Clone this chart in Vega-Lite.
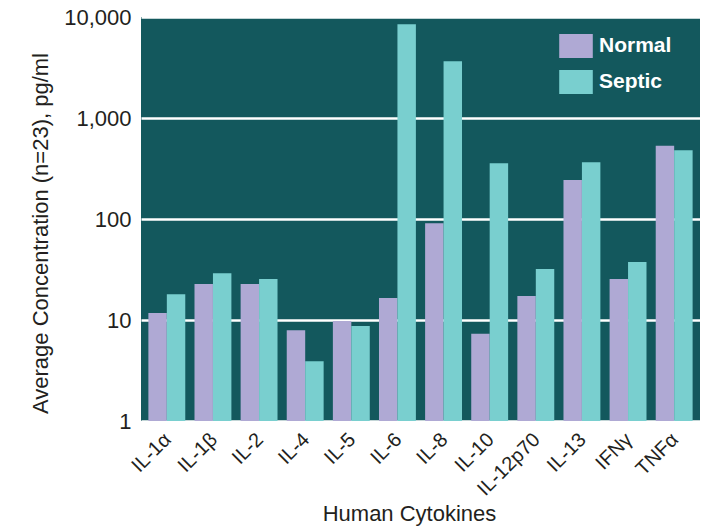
{
  "$schema": "https://vega.github.io/schema/vega-lite/v6.json",
  "width": 559,
  "height": 404,
  "autosize": {"type": "none"},
  "padding": {"left": 141, "top": 17, "right": 17, "bottom": 108},
  "background": "white",
  "config": {
    "font": "Liberation Sans",
    "view": {"fill": "#13585d", "stroke": null},
    "axis": {"labelColor": "#231f20", "titleColor": "#231f20", "titleFontWeight": "normal"}
  },
  "data": {
    "values": [
      {"cytokine": "IL-1α", "group": "Normal", "value": 11.7},
      {"cytokine": "IL-1α", "group": "Septic", "value": 18},
      {"cytokine": "IL-1β", "group": "Normal", "value": 22.7},
      {"cytokine": "IL-1β", "group": "Septic", "value": 29},
      {"cytokine": "IL-2", "group": "Normal", "value": 22.7},
      {"cytokine": "IL-2", "group": "Septic", "value": 25.5},
      {"cytokine": "IL-4", "group": "Normal", "value": 7.9},
      {"cytokine": "IL-4", "group": "Septic", "value": 3.9},
      {"cytokine": "IL-5", "group": "Normal", "value": 9.8},
      {"cytokine": "IL-5", "group": "Septic", "value": 8.7},
      {"cytokine": "IL-6", "group": "Normal", "value": 16.5},
      {"cytokine": "IL-6", "group": "Septic", "value": 8500},
      {"cytokine": "IL-8", "group": "Normal", "value": 91},
      {"cytokine": "IL-8", "group": "Septic", "value": 3650},
      {"cytokine": "IL-10", "group": "Normal", "value": 7.3},
      {"cytokine": "IL-10", "group": "Septic", "value": 357},
      {"cytokine": "IL-12p70", "group": "Normal", "value": 17.3},
      {"cytokine": "IL-12p70", "group": "Septic", "value": 32},
      {"cytokine": "IL-13", "group": "Normal", "value": 243},
      {"cytokine": "IL-13", "group": "Septic", "value": 365},
      {"cytokine": "IFNγ", "group": "Normal", "value": 25.5},
      {"cytokine": "IFNγ", "group": "Septic", "value": 37.5},
      {"cytokine": "TNFα", "group": "Normal", "value": 530},
      {"cytokine": "TNFα", "group": "Septic", "value": 480}
    ]
  },
  "mark": {"type": "bar"},
  "encoding": {
    "x": {
      "field": "cytokine",
      "type": "nominal",
      "sort": null,
      "scale": {"paddingInner": 0.2, "paddingOuter": 0.16},
      "axis": {
        "title": "Human Cytokines",
        "titleFontSize": 22,
        "titlePadding": 5,
        "titleX": 268,
        "labelAngle": -45,
        "labelFontSize": 20,
        "labelPadding": 8,
        "labelOffset": -6,
        "domain": false,
        "ticks": false
      }
    },
    "xOffset": {"field": "group", "type": "nominal", "sort": ["Normal", "Septic"]},
    "y": {
      "field": "value",
      "type": "quantitative",
      "stack": null,
      "scale": {"type": "log", "domain": [1, 10000], "nice": false},
      "axis": {
        "title": "Average Concentration (n=23), pg/ml",
        "titleFontSize": 22,
        "titlePadding": 11,
        "titleY": 216,
        "values": [1, 10, 100, 1000, 10000],
        "format": ",d",
        "labelFontSize": 22,
        "labelPadding": 10,
        "domain": false,
        "ticks": false,
        "grid": true,
        "gridColor": "white",
        "gridWidth": 2.5,
        "gridOpacity": 1,
        "zindex": 0
      }
    },
    "y2": {"datum": 1},
    "color": {
      "field": "group",
      "type": "nominal",
      "scale": {"domain": ["Normal", "Septic"], "range": ["#afa9d4", "#79cfcf"]},
      "legend": {
        "title": null,
        "orient": "none",
        "legendX": 422,
        "legendY": 16,
        "symbolType": "M-1.4,-1H1.4V1H-1.4Z",
        "symbolSize": 576,
        "symbolOpacity": 1,
        "labelColor": "white",
        "labelFontSize": 21,
        "labelFontWeight": "bold",
        "labelOffset": 10,
        "rowPadding": 11,
        "padding": 0
      }
    }
  }
}
